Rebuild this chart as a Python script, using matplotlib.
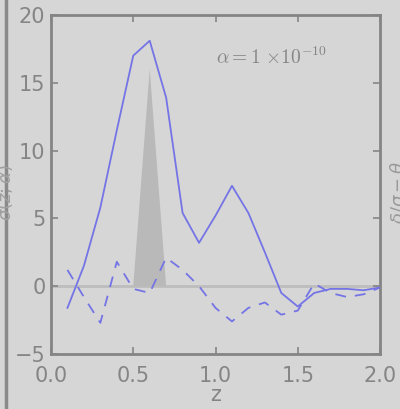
import numpy as np
import matplotlib.pyplot as plt

z = [0.1, 0.2, 0.3, 0.4, 0.5, 0.6, 0.7, 0.8, 0.9, 1.0,
     1.1, 1.2, 1.3, 1.4, 1.5, 1.6, 1.7, 1.8, 1.9, 2.0]
solid = [-1.6, 1.5, 5.8, 11.5, 17.0, 18.1, 13.9, 5.4, 3.2, 5.2,
         7.4, 5.4, 2.5, -0.5, -1.5, -0.5, -0.2, -0.2, -0.3, -0.1]
dashed = [1.2, -0.8, -2.7, 1.8, -0.2, -0.5, 2.1, 1.2, 0.0, -1.6,
          -2.6, -1.6, -1.2, -2.1, -1.8, 0.2, -0.5, -0.8, -0.6, -0.1]
tri_z = [0.5, 0.6, 0.7]
tri_y = [0.0, 16.0, 0.0]

bg = '#d6d6d6'
grey = '#858585'
blue = '#7474e6'

fig = plt.figure(figsize=(4.0, 4.09), dpi=100, facecolor=bg)
ax = fig.add_axes([0.1275, 0.1345, 0.8225, 0.8289], facecolor=bg)

ax.axhline(0, color='#bdbdbd', lw=2, zorder=1)
ax.fill(tri_z, tri_y, color='#b9b9b9', lw=0, zorder=2)
ax.plot(z, solid, color=blue, lw=1.3, zorder=3)
ax.plot(z, dashed, color=blue, lw=1.3, ls=(0, (6, 5)), zorder=3)

ax.set_xlim(0, 2)
ax.set_ylim(-5, 20)
ax.set_xticks([0.0, 0.5, 1.0, 1.5, 2.0])
ax.set_yticks([-5, 0, 5, 10, 15, 20])
ax.set_xticklabels(['0.0', '0.5', '1.0', '1.5', '2.0'])
ax.tick_params(direction='in', top=True, right=True, length=5, width=1.2,
               color=grey, labelcolor=grey, labelsize=15)
ax.tick_params(axis='x', pad=9)
ax.tick_params(axis='y', pad=4)
for s in ax.spines.values():
    s.set_color(grey)
    s.set_linewidth(2)

ax.set_xlabel('z', color=grey, fontsize=15, labelpad=-1)
ax.text(0.5, 0.855, r'$\alpha = 1\ {\times}10^{-10}$', transform=ax.transAxes,
        color=grey, fontsize=14, math_fontfamily='cm')

# bits of neighbouring panels
fig.add_artist(plt.Line2D([5.5 / 400, 5.5 / 400], [0, 1], color='#8a8a8a', lw=2.5))
fig.text(-0.012, 0.53, r'$\sigma(z;\alpha)$', rotation=90, color='#a0a0a0',
         fontsize=13, ha='left', va='center')
fig.text(0.972, 0.53, r'$\delta/\sigma - \theta$', rotation=90, color='#9a9a9a',
         fontsize=13, ha='left', va='center')

fig.savefig('out.png', dpi=100, facecolor=bg)
